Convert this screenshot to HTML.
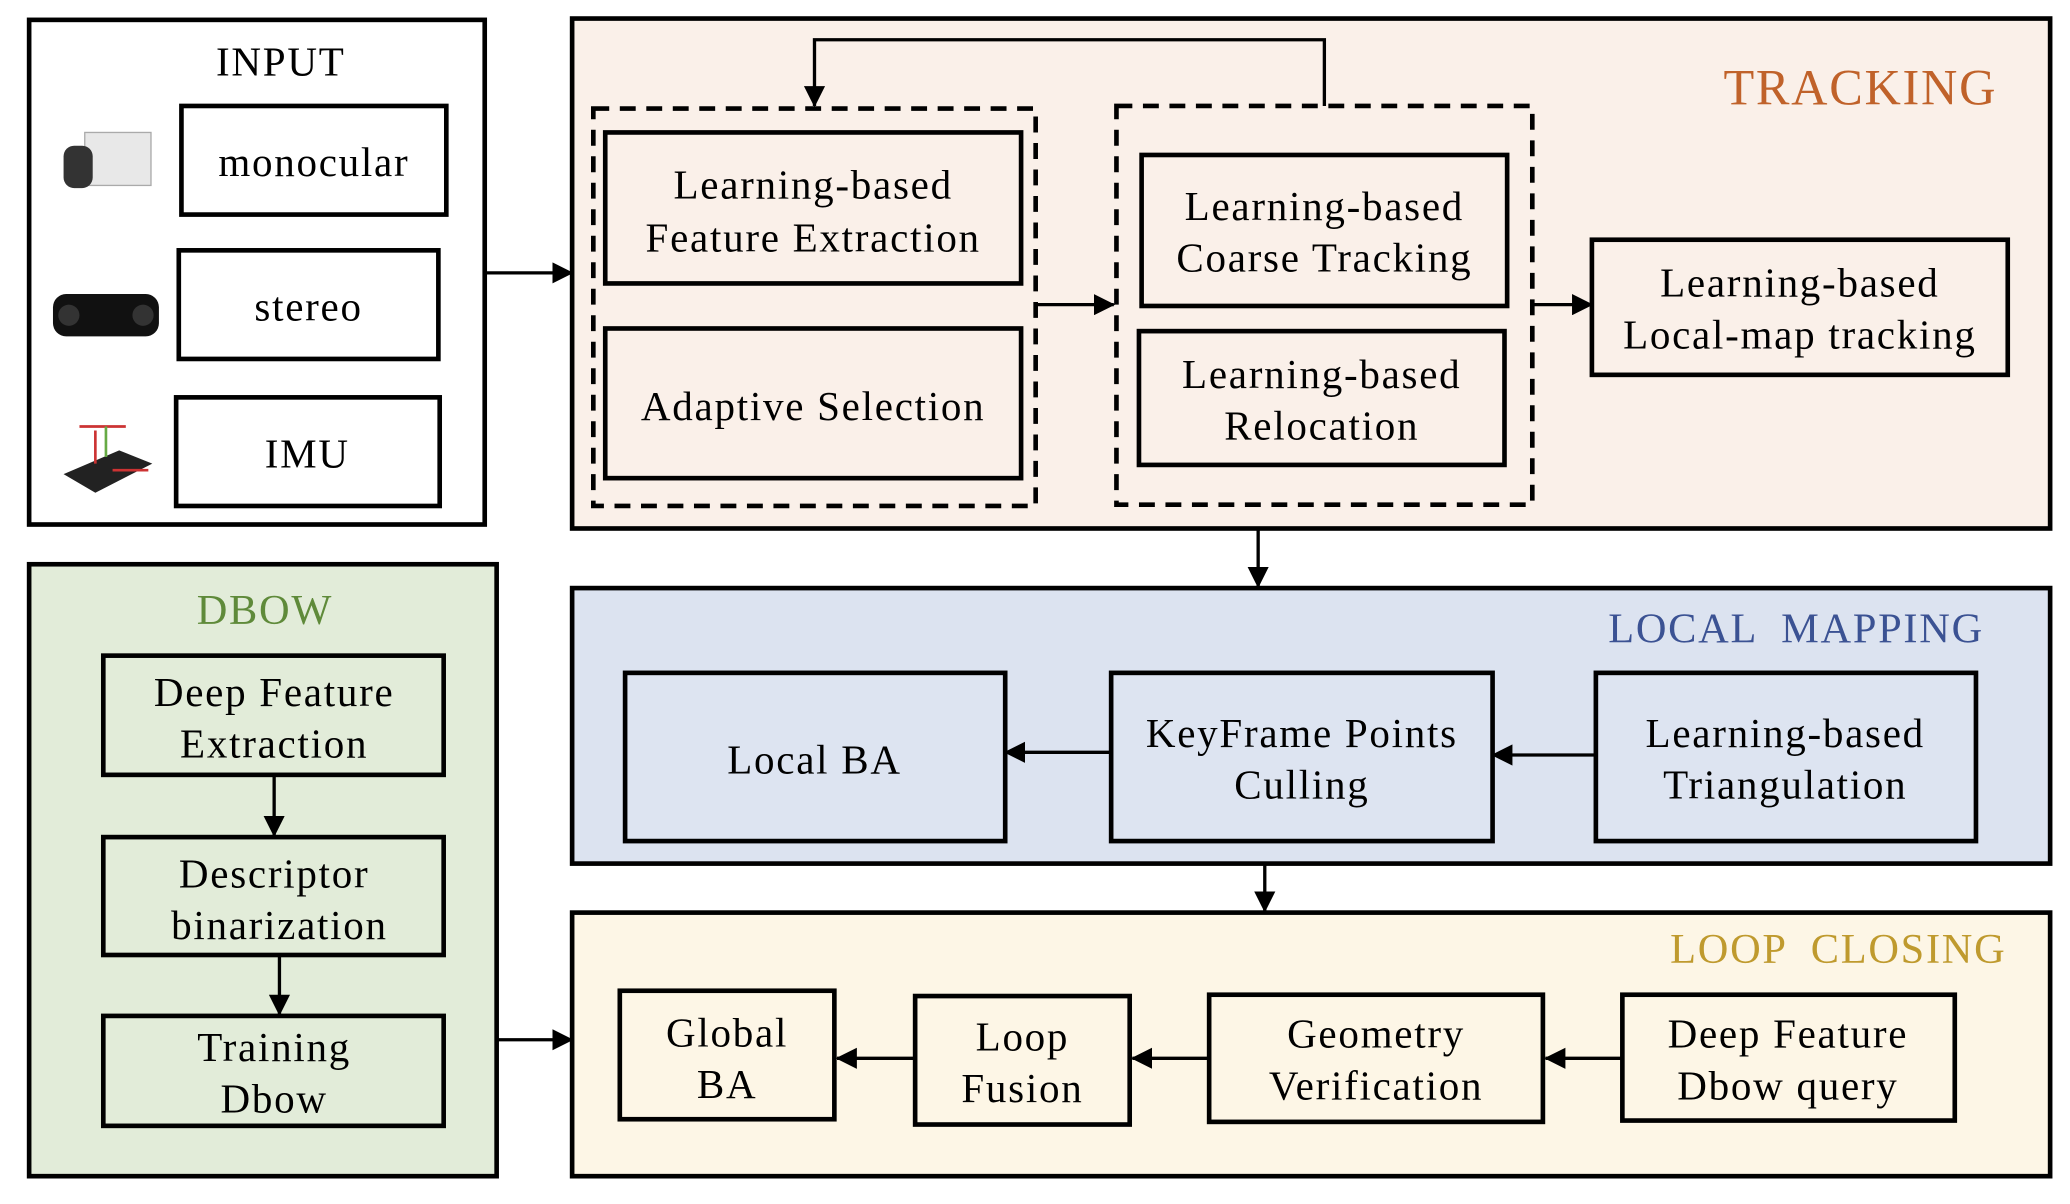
<!DOCTYPE html>
<html><head><meta charset="utf-8"><style>html,body{margin:0;padding:0;background:#fff}svg{display:block}</style></head>
<body>
<svg width="2070" height="1204" viewBox="0 0 1563 909" preserveAspectRatio="none" xmlns="http://www.w3.org/2000/svg" font-family="'Liberation Serif', serif" font-size="31" letter-spacing="1.3">
<defs><marker id="b" markerWidth="16" markerHeight="16" refX="15" refY="8" orient="auto" markerUnits="userSpaceOnUse"><path d="M0,0 L16,8 L0,16 z" fill="#000"/></marker></defs>
<g stroke="#000" stroke-width="3.5">
<rect x="22" y="15" width="344" height="381" fill="#fff"/>
<rect x="137" y="80" width="200" height="82" fill="#fff"/>
<rect x="135" y="189" width="196" height="82" fill="#fff"/>
<rect x="133" y="300" width="199" height="82" fill="#fff"/>
<rect x="432" y="14" width="1116" height="385" fill="#faf0e9"/>
<rect x="448" y="82" width="334" height="300" fill="none" stroke-dasharray="12,8"/>
<rect x="843" y="80" width="314" height="301" fill="none" stroke-dasharray="12,8"/>
<rect x="457" y="100" width="314" height="114" fill="#faf0e9"/>
<rect x="457" y="248" width="314" height="113" fill="#faf0e9"/>
<rect x="862" y="117" width="276" height="114" fill="#faf0e9"/>
<rect x="860" y="250" width="276" height="101" fill="#faf0e9"/>
<rect x="1202" y="181" width="314" height="102" fill="#faf0e9"/>
<rect x="432" y="444" width="1116" height="208" fill="#dce3f0"/>
<rect x="472" y="508" width="287" height="127" fill="#dde4f1"/>
<rect x="839" y="508" width="288" height="127" fill="#dde4f1"/>
<rect x="1205" y="508" width="287" height="127" fill="#dde4f1"/>
<rect x="432" y="689" width="1116" height="199" fill="#fdf6e6"/>
<rect x="468" y="748" width="162" height="97" fill="#fdf6e6"/>
<rect x="691" y="752" width="162" height="97" fill="#fdf6e6"/>
<rect x="913" y="751" width="252" height="96" fill="#fdf6e6"/>
<rect x="1225" y="751" width="251" height="95" fill="#fdf6e6"/>
<rect x="22" y="426" width="353" height="462" fill="#e2ecd9"/>
<rect x="78" y="495" width="257" height="90" fill="#e2ecd9"/>
<rect x="78" y="632" width="257" height="89" fill="#e2ecd9"/>
<rect x="78" y="767" width="257" height="83" fill="#e2ecd9"/>
</g>
<g stroke="#000" stroke-width="2.5" fill="none">
<path d="M1000,80 V30 H615 V80" marker-end="url(#b)"/>
<path d="M782,230 H841" marker-end="url(#b)"/>
<path d="M1157,230 H1202" marker-end="url(#b)"/>
<path d="M366,206 H432" marker-end="url(#b)"/>
<path d="M950,399 V443" marker-end="url(#b)"/>
<path d="M839,568 H759" marker-end="url(#b)"/>
<path d="M1205,570 H1127" marker-end="url(#b)"/>
<path d="M955,652 V688" marker-end="url(#b)"/>
<path d="M691,799 H632" marker-end="url(#b)"/>
<path d="M913,799 H855" marker-end="url(#b)"/>
<path d="M1225,799 H1167" marker-end="url(#b)"/>
<path d="M207,585 V631" marker-end="url(#b)"/>
<path d="M211,721 V766" marker-end="url(#b)"/>
<path d="M375,785 H432" marker-end="url(#b)"/>
</g>
<rect x="64" y="100" width="50" height="40" fill="#e8e8e8" stroke="#aaa"/>
<rect x="48" y="110" width="22" height="32" rx="8" fill="#333"/>
<rect x="40" y="222" width="80" height="32" rx="10" fill="#111"/>
<circle cx="52" cy="238" r="8" fill="#333"/><circle cx="108" cy="238" r="8" fill="#333"/>
<path d="M48,358 L90,340 L115,350 L72,372 z" fill="#222"/>
<path d="M72,325 V350 M60,322 H95 M85,355 H112" stroke="#c33" stroke-width="2"/>
<path d="M80,322 L80,345" stroke="#6a4" stroke-width="2"/>
<g text-anchor="middle" fill="#000">
<text x="212" y="57">INPUT</text>
<text x="237" y="133">monocular</text>
<text x="233" y="242">stereo</text>
<text x="232" y="353">IMU</text>
<text x="614" y="150">Learning-based</text>
<text x="614" y="190">Feature Extraction</text>
<text x="614" y="317">Adaptive Selection</text>
<text x="1000" y="166">Learning-based</text>
<text x="1000" y="205">Coarse Tracking</text>
<text x="998" y="293">Learning-based</text>
<text x="998" y="332">Relocation</text>
<text x="1359" y="224">Learning-based</text>
<text x="1359" y="263">Local-map tracking</text>
<text x="615" y="584">Local BA</text>
<text x="983" y="564">KeyFrame Points</text>
<text x="983" y="603">Culling</text>
<text x="1348" y="564">Learning-based</text>
<text x="1348" y="603">Triangulation</text>
<text x="549" y="790">Global</text>
<text x="549" y="829">BA</text>
<text x="772" y="793">Loop</text>
<text x="772" y="832">Fusion</text>
<text x="1039" y="791">Geometry</text>
<text x="1039" y="830">Verification</text>
<text x="1350" y="791">Deep Feature</text>
<text x="1350" y="830">Dbow query</text>
<text x="207" y="533">Deep Feature</text>
<text x="207" y="572">Extraction</text>
<text x="207" y="670">Descriptor</text>
<text x="211" y="709">binarization</text>
<text x="207" y="801">Training</text>
<text x="207" y="840">Dbow</text>
</g>
<text x="1508" y="79" text-anchor="end" font-size="38" fill="#c0622a">TRACKING</text>
<text x="1498" y="485" text-anchor="end" font-size="32" fill="#3b5293" xml:space="preserve">LOCAL  MAPPING</text>
<text x="1515" y="727" text-anchor="end" font-size="32" fill="#bf9a2e" xml:space="preserve">LOOP  CLOSING</text>
<text x="200" y="471" text-anchor="middle" font-size="32" fill="#5f8a3a">DBOW</text>
</svg>
</body></html>
